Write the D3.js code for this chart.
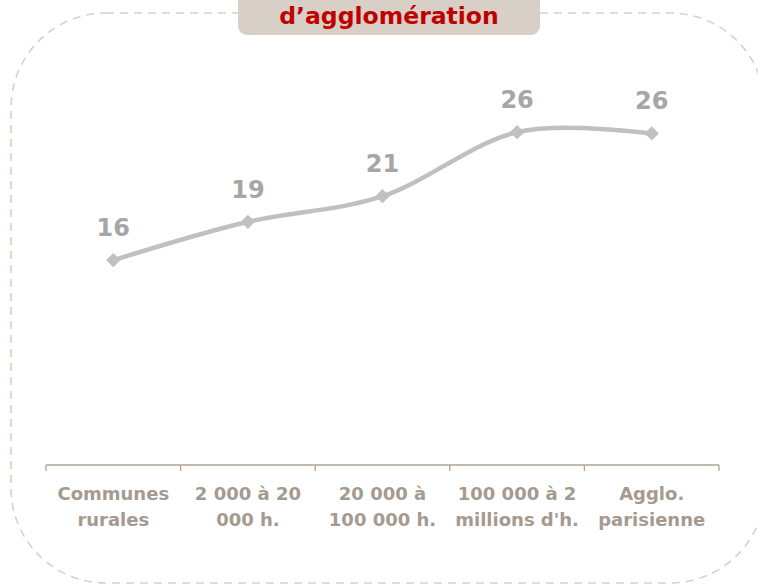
<!DOCTYPE html>
<html>
<head>
<meta charset="utf-8">
<script src="https://cdn.jsdelivr.net/npm/d3@7"></script>
<style>
  html, body { margin: 0; padding: 0; background: #fff; }
  svg { display: block; font-family: "DejaVu Sans", sans-serif; }
</style>
</head>
<body>
<svg id="chart" width="758" height="586"></svg>
<script>
var title = "d\u2019agglomération";
var categories = ["Communes\nrurales", "2 000 à 20\n000 h.", "20 000 à\n100 000 h.", "100 000 à 2\nmillions d'h.", "Agglo.\nparisienne"];
var values = [16, 19, 21, 26, 25.9];
var valueLabels = ["16", "19", "21", "26", "26"];

var svg = d3.select("#chart"),
    width = +svg.attr("width"),
    height = +svg.attr("height");

// dashed frame
svg.append("rect")
    .attr("x", 11).attr("y", 13)
    .attr("width", 754).attr("height", 570)
    .attr("rx", 95).attr("ry", 95)
    .attr("fill", "none")
    .attr("stroke", "#d9d0c6")
    .attr("stroke-width", 1.6)
    .attr("stroke-dasharray", "8,6");

// title tab
svg.append("rect")
    .attr("x", 238).attr("y", -20)
    .attr("width", 302).attr("height", 55)
    .attr("rx", 9).attr("ry", 9)
    .attr("fill", "#d8cfc6");

svg.append("text")
    .attr("x", 389).attr("y", 24)
    .attr("text-anchor", "middle")
    .attr("fill", "#c00000")
    .attr("font-weight", "bold")
    .attr("font-size", 23.5)
    .text(title);

var x = d3.scaleBand()
    .domain(categories)
    .range([46, 719]);

var y = d3.scaleLinear()
    .domain([0, 35])
    .range([465, 17]);

var cx = function(d, i) { return x(categories[i]) + x.bandwidth() / 2; };

// axis line + ticks
var axis = svg.append("g").attr("class", "x-axis");
axis.append("line")
    .attr("x1", x.range()[0]).attr("x2", x.range()[1])
    .attr("y1", y(0)).attr("y2", y(0))
    .attr("stroke", "#b0a294").attr("stroke-width", 1.3);

var tickPos = categories.map(function(c) { return x(c); }).concat([x.range()[1]]);
axis.selectAll("line.tick")
    .data(tickPos)
    .enter().append("line")
      .attr("class", "tick")
      .attr("x1", function(d) { return d; }).attr("x2", function(d) { return d; })
      .attr("y1", y(0)).attr("y2", y(0) + 6)
      .attr("stroke", "#b0a294").attr("stroke-width", 1.3);

var catText = axis.selectAll("text")
    .data(categories)
    .enter().append("text")
      .attr("text-anchor", "middle")
      .attr("fill", "#a59a8f")
      .attr("font-weight", "bold")
      .attr("font-size", 18)
      .attr("y", 500);

catText.each(function(d, i) {
    var t = d3.select(this);
    d.split("\n").forEach(function(line, j) {
        t.append("tspan")
            .attr("x", x(d) + x.bandwidth() / 2)
            .attr("y", 500 + j * 26)
            .text(line);
    });
});

// line
var lineGen = d3.line()
    .x(function(d, i) { return cx(d, i); })
    .y(function(d) { return y(d); })
    .curve(d3.curveCardinal.tension(0));

svg.append("path")
    .datum(values)
    .attr("d", lineGen)
    .attr("fill", "none")
    .attr("stroke", "#c0c0c0")
    .attr("stroke-width", 4.5);

// diamond markers
svg.append("g")
    .selectAll("path")
    .data(values)
    .enter().append("path")
      .attr("d", d3.symbol().type(d3.symbolDiamond2).size(130))
      .attr("transform", function(d, i) { return "translate(" + cx(d, i) + "," + y(d) + ")"; })
      .attr("fill", "#c0c0c0");

// value labels
svg.append("g")
    .selectAll("text")
    .data(values)
    .enter().append("text")
      .attr("x", function(d, i) { return cx(d, i); })
      .attr("y", function(d) { return y(d) - 24; })
      .attr("text-anchor", "middle")
      .attr("fill", "#a6a6a6")
      .attr("font-weight", "bold")
      .attr("font-size", 24)
      .text(function(d, i) { return valueLabels[i]; });
</script>
</body>
</html>
